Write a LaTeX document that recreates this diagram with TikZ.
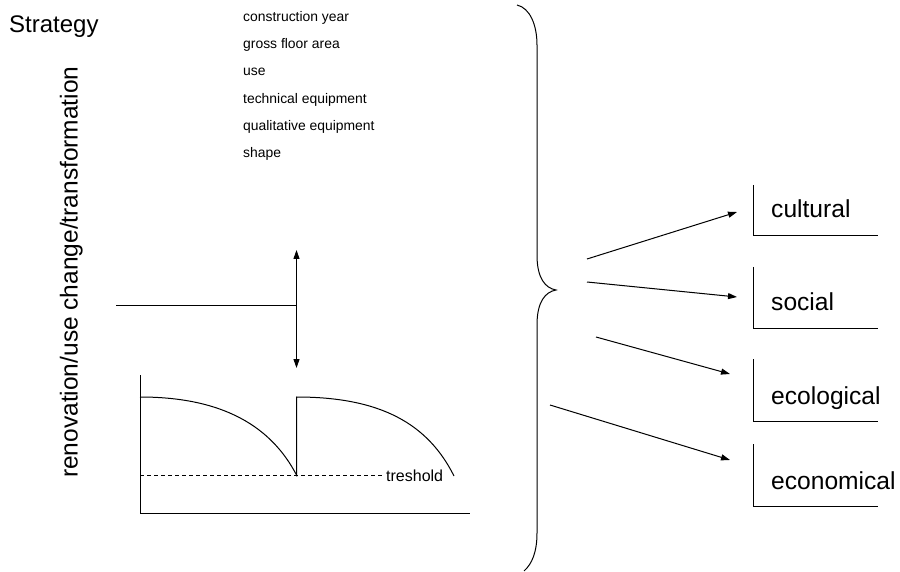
\documentclass[tikz,border=0pt]{standalone}
\usepackage{fontspec}
\setmainfont{Liberation Sans}
\usetikzlibrary{arrows.meta}
\begin{document}
\begin{tikzpicture}[x=1pt,y=-1pt,
  thin line/.style={line width=1pt, line cap=butt},
  plain text/.style={inner sep=0pt, anchor=base west},
  item text/.style={plain text, font=\fontsize{13.9}{16}\selectfont},
  big text/.style={plain text, font=\fontsize{24.6}{28}\selectfont},
  aspect box/.style={thin line},
  tip/.style={-{Triangle[length=9pt,width=6pt]}}]
\useasboundingbox (0,0) rectangle (900,572);

% title and vertical label
\node[plain text, font=\fontsize{24}{28}\selectfont] (title) at (9,33) {Strategy};
\node[plain text, font=\fontsize{24.5}{29}\selectfont, rotate=90] (strat) at (77.5,478) {renovation/use change/transformation};

% building parameters
\foreach \t [count=\i from 0] in {construction year,gross floor area,use,technical equipment,qualitative equipment,shape}
  \node[item text] (p\i) at (243,21.5+27.2*\i) {\t};

% decision line with double arrow
\coordinate (hstart) at (116,305.5);
\coordinate (hend) at (296.5,305.5);
\coordinate (up) at (296.5,250);
\coordinate (down) at (296.5,368);
\draw[thin line] (hstart) -- (hend);
\draw[thin line, {Triangle[length=9pt,width=6pt]}-{Triangle[length=9pt,width=6pt]}] (up) -- (down);

% performance chart
\coordinate (ytop) at (140,375);
\coordinate (orig) at (140,513.5);
\coordinate (xend) at (470,513.5);
\draw[thin line] (ytop) -- (orig) -- (xend);
\coordinate (thl) at (140,475);
\coordinate (thr) at (384,475);
\draw[thin line, dash pattern=on 4pt off 3pt] (thl) -- (thr);
\node[plain text, font=\fontsize{16}{19}\selectfont] (thr label) at (386,481.5) {treshold};
\draw[thin line] (140,397) .. controls (225,397) and (272,428) .. (296.5,475)
  -- (296.5,397) .. controls (381,397) and (428,424) .. (454,476);

% brace
\draw[thin line] (517,5) .. controls (530,8) and (537,25) .. (537,45)
  -- (537,255) .. controls (537,278) and (545,288) .. (556,290)
  .. controls (545,292) and (537,302) .. (537,325)
  -- (537,533) .. controls (537,552) and (532,564) .. (524,571);

% aspect boxes
\draw[aspect box] (753,185) |- (878,236);
\draw[aspect box] (753,267) |- (878,328);
\draw[aspect box] (753,359) |- (878,421);
\draw[aspect box] (753,444) |- (878,506);
\node[big text] (cult) at (771,218) {cultural};
\node[big text] (soc) at (771,310) {social};
\node[big text] (eco) at (771,404) {ecological};
\node[big text] (econ) at (771,489) {economical};

% arrows from the brace to the aspects
\coordinate (a1) at (587,259);
\coordinate (b1) at (737,212);
\coordinate (a2) at (587,282);
\coordinate (b2) at (737,297);
\coordinate (a3) at (596,337);
\coordinate (b3) at (730,374);
\coordinate (a4) at (550,405);
\coordinate (b4) at (730,460);
\foreach \i in {1,...,4}
  \draw[thin line, tip] (a\i) -- (b\i);
\end{tikzpicture}
\end{document}
